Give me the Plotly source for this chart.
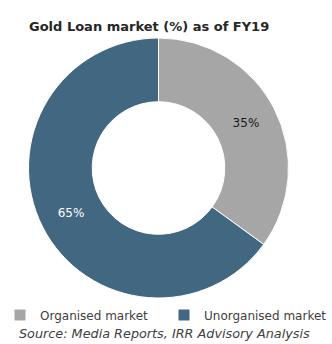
import plotly.graph_objects as go

# Market split of gold loans, FY19
segments = ["Organised market", "Unorganised market"]
shares = [35, 65]
segment_colors = ["#A6A6A6", "#426781"]
label_colors = ["#1a1a1a", "#ffffff"]

title_text = "Gold Loan market (%) as of FY19"
source_text = "Source: Media Reports, IRR Advisory Analysis"

W, H = 332, 344
FONT = "DejaVu Sans"

# donut centre and radius in page pixels
cx, cy, r = 158.5, 168, 130

fig = go.Figure(
    go.Pie(
        labels=segments,
        values=shares,
        hole=0.51,
        sort=False,
        direction="clockwise",
        rotation=0,
        marker=dict(colors=segment_colors, line=dict(color="#ffffff", width=1)),
        texttemplate="%{value}%",
        textposition="inside",
        insidetextorientation="horizontal",
        textfont=dict(color=label_colors, size=12, family=FONT),
        domain=dict(x=[(cx - r) / W, (cx + r) / W],
                    y=[(H - cy - r) / H, (H - cy + r) / H]),
        hoverinfo="label+percent",
    )
)

fig.update_layout(
    width=W,
    height=H,
    margin=dict(l=0, r=0, t=0, b=0),
    paper_bgcolor="white",
    plot_bgcolor="white",
    font=dict(family=FONT, size=11, color="#404040"),
    showlegend=True,
    legend=dict(
        orientation="h",
        x=0.0,
        xanchor="left",
        y=(H - 315) / H,
        yanchor="middle",
        entrywidth=119,
        entrywidthmode="pixels",
        font=dict(size=12, color="#404040", family=FONT),
        bgcolor="rgba(0,0,0,0)",
    ),
    annotations=[
        dict(
            text="<b>" + title_text + "</b>",
            x=27 / W, y=1 - 26 / H,
            xref="paper", yref="paper",
            xanchor="left", yanchor="middle",
            showarrow=False,
            font=dict(size=13, color="#262626", family=FONT),
        ),
        dict(
            text="<i>" + source_text + "</i>",
            x=17 / W, y=1 - 333 / H,
            xref="paper", yref="paper",
            xanchor="left", yanchor="middle",
            showarrow=False,
            font=dict(size=12.8, color="#404040", family=FONT),
        ),
    ],
)

fig.write_html("out.html")
